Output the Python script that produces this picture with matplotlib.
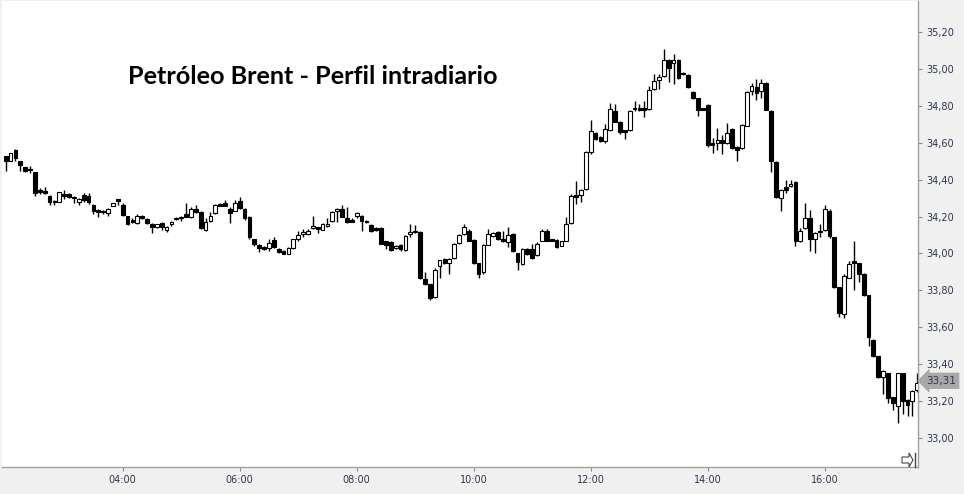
import matplotlib
matplotlib.use("Agg")
import matplotlib.pyplot as plt
import numpy as np

# Petróleo Brent, velas de 5 minutos (02:00 -> 17:35)
opens = [34.53, 34.50, 34.56, 34.50, 34.467, 34.46, 34.443, 34.346, 34.337, 34.313,
         34.286, 34.281, 34.32, 34.324, 34.305, 34.281, 34.315, 34.313, 34.265, 34.236,
         34.232, 34.22, 34.258, 34.296, 34.265, 34.202, 34.18, 34.164, 34.205, 34.187,
         34.16, 34.142, 34.164, 34.128, 34.16, 34.193, 34.19, 34.214, 34.197, 34.242,
         34.227, 34.128, 34.175, 34.22, 34.268, 34.276, 34.242, 34.232, 34.286, 34.242,
         34.20, 34.079, 34.044, 34.034, 34.03, 34.074, 34.025, 34.016, 33.998, 34.03,
         34.08, 34.103, 34.103, 34.14, 34.142, 34.128, 34.148, 34.175, 34.23, 34.242,
         34.193, 34.184, 34.202, 34.205, 34.175, 34.155, 34.14, 34.14, 34.065, 34.06,
         34.029, 34.044, 34.02, 34.103, 34.124, 34.114, 33.863, 33.832, 33.764, 33.93,
         33.97, 33.95, 33.977, 34.057, 34.103, 34.124, 34.074, 33.948, 33.90, 34.047,
         34.097, 34.115, 34.08, 34.063, 34.106, 34.003, 33.945, 34.025, 34.025, 33.99,
         34.07, 34.124, 34.078, 34.074, 34.043, 34.07, 34.166, 34.319, 34.317, 34.35,
         34.548, 34.655, 34.63, 34.607, 34.669, 34.773, 34.715, 34.668, 34.668, 34.782,
         34.787, 34.79, 34.785, 34.89, 34.939, 34.96, 35.05, 35.03, 35.05, 34.98,
         34.967, 34.875, 34.84, 34.786, 34.804, 34.60, 34.60, 34.615, 34.60, 34.677,
         34.575, 34.57, 34.692, 34.88, 34.904, 34.88, 34.926, 34.773, 34.497, 34.301,
         34.358, 34.364, 34.385, 34.07, 34.14, 34.193, 34.08, 34.124, 34.128, 34.232,
         34.088, 33.818, 33.67, 33.869, 33.957, 33.948, 33.89, 33.773, 33.533, 33.443,
         33.331, 33.35, 33.223, 33.173, 33.35, 33.205, 33.20, 33.26]
highs = [34.53, 34.545, 34.565, 34.50, 34.47, 34.476, 34.443, 34.355, 34.358, 34.315,
         34.29, 34.331, 34.346, 34.33, 34.31, 34.30, 34.325, 34.325, 34.27, 34.24,
         34.235, 34.245, 34.276, 34.296, 34.276, 34.205, 34.19, 34.215, 34.21, 34.19,
         34.165, 34.162, 34.168, 34.148, 34.175, 34.195, 34.202, 34.276, 34.25, 34.26,
         34.23, 34.19, 34.227, 34.27, 34.276, 34.29, 34.25, 34.29, 34.305, 34.245,
         34.205, 34.08, 34.05, 34.04, 34.08, 34.09, 34.03, 34.02, 34.035, 34.08,
         34.124, 34.13, 34.13, 34.205, 34.145, 34.165, 34.19, 34.23, 34.245, 34.26,
         34.254, 34.19, 34.227, 34.21, 34.18, 34.16, 34.145, 34.145, 34.07, 34.065,
         34.045, 34.05, 34.10, 34.157, 34.152, 34.12, 33.90, 33.835, 33.92, 33.965,
         33.975, 33.975, 34.055, 34.105, 34.16, 34.13, 34.08, 33.95, 34.05, 34.135,
         34.115, 34.12, 34.124, 34.145, 34.11, 34.0, 34.03, 34.03, 34.05, 34.06,
         34.13, 34.13, 34.08, 34.08, 34.07, 34.20, 34.32, 34.395, 34.35, 34.555,
         34.723, 34.66, 34.635, 34.70, 34.815, 34.81, 34.72, 34.67, 34.78, 34.825,
         34.81, 34.825, 34.905, 34.97, 34.97, 35.106, 35.055, 35.08, 35.055, 34.985,
         34.97, 34.88, 34.845, 34.79, 34.81, 34.625, 34.68, 34.64, 34.706, 34.68,
         34.58, 34.70, 34.88, 34.925, 34.945, 34.945, 34.93, 34.78, 34.50, 34.35,
         34.40, 34.40, 34.39, 34.14, 34.272, 34.235, 34.115, 34.16, 34.265, 34.24,
         34.09, 33.82, 33.89, 33.958, 34.066, 33.95, 33.895, 33.775, 33.535, 33.445,
         33.37, 33.355, 33.225, 33.355, 33.355, 33.21, 33.26, 33.353]
lows = [34.445, 34.50, 34.50, 34.445, 34.44, 34.436, 34.313, 34.32, 34.32, 34.263,
        34.26, 34.28, 34.296, 34.30, 34.276, 34.263, 34.28, 34.27, 34.215, 34.20,
        34.215, 34.205, 34.255, 34.265, 34.205, 34.155, 34.165, 34.16, 34.185, 34.16,
        34.11, 34.14, 34.128, 34.115, 34.148, 34.183, 34.178, 34.198, 34.19, 34.22,
        34.13, 34.12, 34.17, 34.215, 34.255, 34.255, 34.164, 34.23, 34.24, 34.18,
        34.08, 34.04, 34.007, 34.02, 34.015, 34.03, 34.005, 33.995, 33.995, 34.025,
        34.07, 34.09, 34.10, 34.135, 34.11, 34.125, 34.145, 34.17, 34.17, 34.195,
        34.165, 34.17, 34.19, 34.124, 34.165, 34.115, 34.12, 34.05, 34.025, 34.015,
        34.025, 34.015, 34.015, 34.09, 34.11, 33.86, 33.83, 33.746, 33.76, 33.865,
        33.945, 33.89, 33.97, 34.05, 34.10, 34.065, 33.945, 33.866, 33.89, 34.045,
        34.09, 34.075, 34.06, 34.035, 34.01, 33.913, 33.94, 33.99, 33.97, 33.985,
        34.065, 34.065, 34.065, 34.03, 34.04, 34.065, 34.16, 34.27, 34.28, 34.345,
        34.54, 34.615, 34.605, 34.60, 34.665, 34.71, 34.65, 34.62, 34.665, 34.77,
        34.77, 34.74, 34.78, 34.885, 34.89, 34.955, 34.93, 34.92, 34.945, 34.965,
        34.895, 34.835, 34.745, 34.775, 34.575, 34.545, 34.56, 34.54, 34.595, 34.565,
        34.50, 34.565, 34.69, 34.86, 34.83, 34.84, 34.775, 34.443, 34.30, 34.229,
        34.33, 34.36, 34.04, 34.06, 34.135, 34.016, 34.00, 34.09, 34.12, 34.085,
        33.815, 33.656, 33.65, 33.865, 33.80, 33.845, 33.77, 33.50, 33.44, 33.325,
        33.24, 33.19, 33.15, 33.083, 33.13, 33.12, 33.12, 33.25]
closes = [34.50, 34.545, 34.52, 34.48, 34.449, 34.45, 34.326, 34.335, 34.326, 34.281,
          34.277, 34.331, 34.31, 34.308, 34.30, 34.296, 34.29, 34.277, 34.229, 34.223,
          34.222, 34.242, 34.274, 34.287, 34.21, 34.16, 34.17, 34.205, 34.19, 34.164,
          34.142, 34.16, 34.142, 34.146, 34.172, 34.186, 34.20, 34.20, 34.242, 34.227,
          34.137, 34.173, 34.205, 34.265, 34.258, 34.258, 34.22, 34.276, 34.247, 34.192,
          34.088, 34.052, 34.03, 34.025, 34.055, 34.034, 34.01, 33.998, 34.03, 34.076,
          34.10, 34.115, 34.124, 34.15, 34.13, 34.16, 34.16, 34.227, 34.24, 34.20,
          34.17, 34.173, 34.22, 34.175, 34.17, 34.12, 34.128, 34.052, 34.047, 34.02,
          34.04, 34.022, 34.097, 34.114, 34.117, 33.867, 33.836, 33.76, 33.912, 33.962,
          33.95, 33.97, 34.052, 34.10, 34.146, 34.07, 33.948, 33.89, 34.044, 34.103,
          34.11, 34.08, 34.065, 34.10, 34.016, 33.953, 34.025, 33.998, 33.975, 34.052,
          34.124, 34.07, 34.07, 34.036, 34.065, 34.16, 34.314, 34.308, 34.346, 34.548,
          34.665, 34.62, 34.61, 34.674, 34.782, 34.715, 34.656, 34.656, 34.773, 34.79,
          34.78, 34.78, 34.885, 34.935, 34.957, 35.05, 35.007, 35.048, 34.95, 34.97,
          34.90, 34.84, 34.78, 34.777, 34.588, 34.59, 34.615, 34.598, 34.652, 34.57,
          34.562, 34.695, 34.876, 34.907, 34.872, 34.926, 34.78, 34.503, 34.304, 34.344,
          34.346, 34.377, 34.07, 34.124, 34.193, 34.08, 34.11, 34.115, 34.242, 34.092,
          33.818, 33.677, 33.876, 33.944, 33.948, 33.89, 33.773, 33.547, 33.443, 33.33,
          33.363, 33.215, 33.19, 33.35, 33.20, 33.178, 33.254, 33.30]

price_ticks = [33.0, 33.2, 33.4, 33.6, 33.8, 34.0, 34.2, 34.4, 34.6, 34.8, 35.0, 35.2]
time_idx = [24, 48, 72, 96, 120, 144, 168]
time_labels = ["04:00", "06:00", "08:00", "10:00", "12:00", "14:00", "16:00"]
last_price = 33.31

W, H = 964, 494
fig = plt.figure(figsize=(W / 100, H / 100), dpi=100, facecolor="#f0f0f0")
ax = fig.add_axes([2 / W, 27 / H, 916 / W, 466 / H])
ax.set_facecolor("white")

o = np.array(opens)
h = np.array(highs)
l = np.array(lows)
c = np.array(closes)
x = np.arange(len(o))
up = c >= o

# mechas
ax.vlines(x, l, h, color="black", linewidth=1, zorder=2)
# cuerpos
bottom = np.minimum(o, c)
height = np.maximum(np.abs(c - o), 0.005)
ax.bar(x[up], height[up], bottom=bottom[up], width=0.78,
       facecolor="white", edgecolor="black", linewidth=0.8, zorder=3)
ax.bar(x[~up], height[~up], bottom=bottom[~up], width=0.78,
       facecolor="black", edgecolor="black", linewidth=0.8, zorder=3)

ax.set_xlim(-0.76, 187.15)
ax.set_ylim(32.843, 35.368)

ax.yaxis.tick_right()
ax.set_yticks(price_ticks)
ax.set_yticklabels([f"{v:.2f}".replace(".", ",") for v in price_ticks])
ax.set_xticks(time_idx)
ax.set_xticklabels(time_labels)
ax.tick_params(axis="both", labelsize=7, colors="#888888", labelcolor="#2a3550",
               length=3, width=0.8)
ax.tick_params(axis="y", pad=3)
ax.tick_params(axis="x", pad=3)

for side in ["top", "left"]:
    ax.spines[side].set_visible(False)
for side in ["right", "bottom"]:
    ax.spines[side].set_color("#a0a0a0")
    ax.spines[side].set_linewidth(1)

# etiqueta del precio actual
ax.annotate(f"{last_price:.2f}".replace(".", ","), xy=(1.0, last_price),
            xycoords=ax.get_yaxis_transform(), xytext=(6, 0),
            textcoords="offset points", ha="left", va="center",
            fontsize=7.5, color="#2a3550",
            bbox=dict(boxstyle="larrow,pad=0.3", fc="#a8a8a8", ec="none"))

fig.text(128 / W, 1 - 76 / H, "Petróleo Brent - Perfil intradiario",
         fontsize=18.2, fontweight="bold", family="Lato", ha="left", va="center")

# icono de desplazamiento abajo a la derecha
icon_x = np.array([902, 909, 909, 913, 909, 909, 902, 902]) / W
icon_y = 1 - np.array([457, 457, 453, 460, 467, 463, 463, 457]) / H
fig.add_artist(plt.Polygon(np.column_stack([icon_x, icon_y]), closed=True,
                           fill=False, edgecolor="#444444", linewidth=0.8))
fig.add_artist(plt.Line2D([915 / W, 915 / W], [1 - 453 / H, 1 - 467 / H],
                          color="#444444", linewidth=1))

fig.savefig("out.png", dpi=100, facecolor=fig.get_facecolor())
